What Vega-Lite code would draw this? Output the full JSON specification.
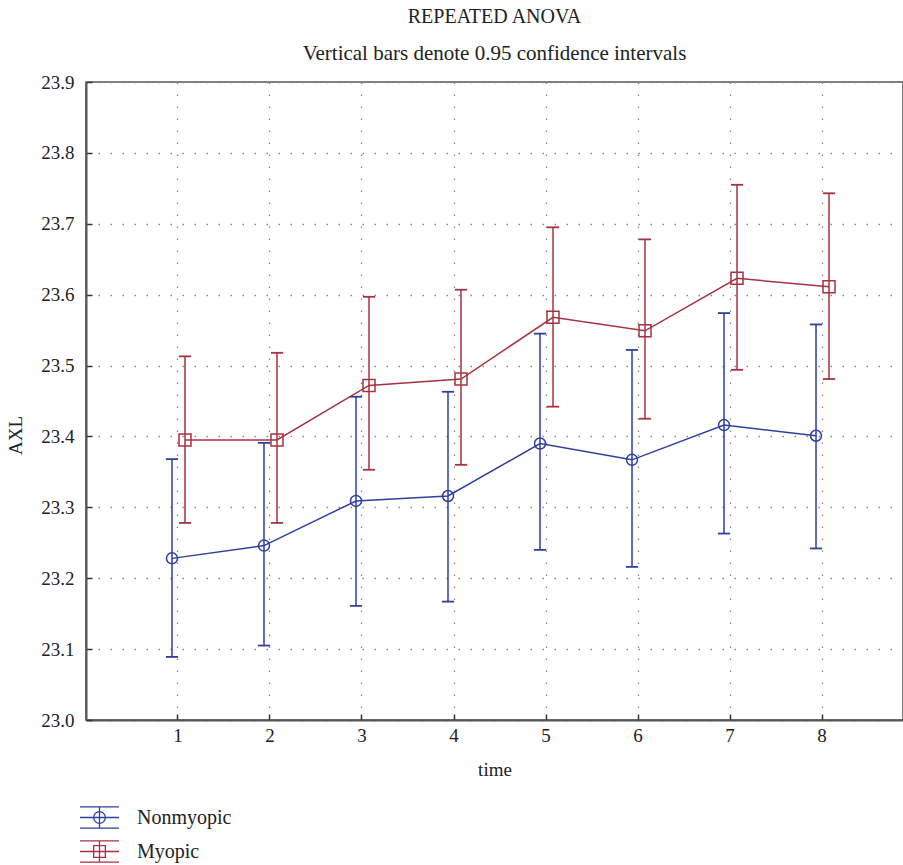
{
  "$schema": "https://vega.github.io/schema/vega-lite/v6.json",
  "width": 817,
  "height": 638,
  "autosize": "none",
  "padding": {"left": 86, "top": 82, "right": 0, "bottom": 145},
  "background": "white",
  "title": {
    "text": "REPEATED ANOVA",
    "subtitle": "Vertical bars denote 0.95 confidence intervals",
    "font": "Liberation Serif",
    "fontSize": 20,
    "fontWeight": "normal",
    "color": "#222222",
    "subtitleFont": "Liberation Serif",
    "subtitleFontSize": 21,
    "subtitleColor": "#222222",
    "subtitlePadding": 16,
    "anchor": "middle",
    "offset": 9
  },
  "config": {
    "font": "Liberation Serif",
    "style": {"guide-label": {"font": "Liberation Serif"}, "guide-title": {"font": "Liberation Serif"}},
    "view": {"stroke": "#555555", "strokeWidth": 1.5},
    "legend": {"labelFont": "Liberation Serif", "labelFontSize": 20, "labelColor": "#222222"},
    "axis": {
      "labelFont": "Liberation Serif",
      "labelFontSize": 19,
      "labelColor": "#222222",
      "titleFont": "Liberation Serif",
      "titleFontSize": 19,
      "titleFontWeight": "normal",
      "titleColor": "#222222",
      "domainColor": "#555555",
      "domainWidth": 2,
      "tickColor": "#333333",
      "tickWidth": 1.5,
      "tickSize": -6,
      "gridColor": "#888888",
      "gridDash": [1.5, 10.5],
      "gridWidth": 1.3
    }
  },
  "data": {
    "values": [
      {"series": "Nonmyopic", "time": 1, "mean": 23.228, "lo": 23.089, "hi": 23.368},
      {"series": "Nonmyopic", "time": 2, "mean": 23.246, "lo": 23.105, "hi": 23.391},
      {"series": "Nonmyopic", "time": 3, "mean": 23.309, "lo": 23.161, "hi": 23.456},
      {"series": "Nonmyopic", "time": 4, "mean": 23.316, "lo": 23.167, "hi": 23.463},
      {"series": "Nonmyopic", "time": 5, "mean": 23.390, "lo": 23.240, "hi": 23.545},
      {"series": "Nonmyopic", "time": 6, "mean": 23.367, "lo": 23.216, "hi": 23.522},
      {"series": "Nonmyopic", "time": 7, "mean": 23.416, "lo": 23.263, "hi": 23.574},
      {"series": "Nonmyopic", "time": 8, "mean": 23.401, "lo": 23.242, "hi": 23.558},
      {"series": "Myopic", "time": 1, "mean": 23.395, "lo": 23.278, "hi": 23.513},
      {"series": "Myopic", "time": 2, "mean": 23.395, "lo": 23.278, "hi": 23.518},
      {"series": "Myopic", "time": 3, "mean": 23.472, "lo": 23.353, "hi": 23.597},
      {"series": "Myopic", "time": 4, "mean": 23.481, "lo": 23.360, "hi": 23.607},
      {"series": "Myopic", "time": 5, "mean": 23.568, "lo": 23.442, "hi": 23.695},
      {"series": "Myopic", "time": 6, "mean": 23.549, "lo": 23.425, "hi": 23.678},
      {"series": "Myopic", "time": 7, "mean": 23.623, "lo": 23.494, "hi": 23.755},
      {"series": "Myopic", "time": 8, "mean": 23.611, "lo": 23.481, "hi": 23.743}
    ]
  },
  "encoding": {
    "x": {
      "field": "time",
      "type": "ordinal",
      "title": "time",
      "scale": {"type": "band", "paddingInner": 0, "paddingOuter": 0.44, "align": 0.568},
      "axis": {"labelAngle": 0, "grid": true, "bandPosition": 0.5, "labelPadding": 12, "titlePadding": 15, "labelFont": "Liberation Serif", "titleFont": "Liberation Serif"}
    },
    "xOffset": {
      "field": "series",
      "type": "nominal",
      "scale": {"type": "point", "domain": ["Nonmyopic", "Myopic"], "range": [40, 53], "padding": 0}
    },
    "color": {
      "field": "series",
      "type": "nominal",
      "scale": {"domain": ["Nonmyopic", "Myopic"], "range": ["#2f3f9e", "#a63242"]},
      "legend": {
        "title": null,
        "orient": "none",
        "legendX": -7,
        "legendY": 715,
        "symbolSize": 1520,
        "symbolStrokeWidth": 1.3,
        "symbolOpacity": 1,
        "symbolFillColor": "transparent",
        "labelFont": "Liberation Serif",
        "labelFontSize": 20,
        "labelColor": "#222222",
        "labelOffset": 17,
        "rowPadding": 0
      }
    }
  },
  "layer": [
    {
      "mark": {"type": "rule", "strokeWidth": 1.5},
      "encoding": {
        "y": {
          "field": "lo",
          "type": "quantitative",
          "title": "AXL",
          "scale": {"domain": [23.0, 23.9], "nice": false, "zero": false},
          "axis": {
            "values": [23.0, 23.1, 23.2, 23.3, 23.4, 23.5, 23.6, 23.7, 23.8, 23.9],
            "format": ".1f",
            "grid": true,
            "labelPadding": 18,
            "titlePadding": 15,
            "titleY": 353,
            "labelFont": "Liberation Serif",
            "titleFont": "Liberation Serif"
          }
        },
        "y2": {"field": "hi"}
      }
    },
    {
      "mark": {"type": "point", "shape": "M-1,0H1", "size": 150, "strokeWidth": 1.8, "filled": false, "opacity": 1},
      "encoding": {"y": {"field": "lo", "type": "quantitative"}}
    },
    {
      "mark": {"type": "point", "shape": "M-1,0H1", "size": 150, "strokeWidth": 1.8, "filled": false, "opacity": 1},
      "encoding": {"y": {"field": "hi", "type": "quantitative"}}
    },
    {
      "mark": {"type": "line", "strokeWidth": 1.5},
      "encoding": {"y": {"field": "mean", "type": "quantitative"}, "detail": {"field": "series"}}
    },
    {
      "transform": [{"filter": "datum.series === 'Nonmyopic'"}],
      "mark": {"type": "point", "shape": "circle", "size": 121, "strokeWidth": 1.5, "filled": false, "fill": "transparent", "opacity": 1},
      "encoding": {"y": {"field": "mean", "type": "quantitative"}}
    },
    {
      "transform": [{"filter": "datum.series === 'Myopic'"}],
      "mark": {"type": "point", "shape": "square", "size": 144, "strokeWidth": 1.5, "filled": false, "fill": "transparent", "opacity": 1},
      "encoding": {"y": {"field": "mean", "type": "quantitative"}}
    },
    {
      "mark": {"type": "point", "filled": false, "size": 1520, "strokeWidth": 1.3, "opacity": 0},
      "encoding": {
        "y": {"field": "mean", "type": "quantitative"},
        "shape": {
          "field": "series",
          "type": "nominal",
          "scale": {
            "domain": ["Nonmyopic", "Myopic"],
            "range": [
              "M-1,-0.55H1M-1,0H1M-1,0.55H1M0,-0.55V0.55M0.3,0A0.3,0.3,0,1,1,-0.3,0A0.3,0.3,0,1,1,0.3,0",
              "M-1,-0.55H1M-1,0H1M-1,0.55H1M0,-0.55V0.55M-0.3,-0.3H0.3V0.3H-0.3Z"
            ]
          },
          "legend": {
            "title": null,
            "orient": "none",
            "legendX": -7,
            "legendY": 715,
            "symbolSize": 1520,
            "symbolStrokeWidth": 1.3,
            "symbolOpacity": 1,
            "symbolFillColor": "transparent",
            "labelFont": "Liberation Serif",
            "labelFontSize": 20,
            "labelColor": "#222222",
            "labelOffset": 17,
            "rowPadding": 0
          }
        }
      }
    }
  ]
}
